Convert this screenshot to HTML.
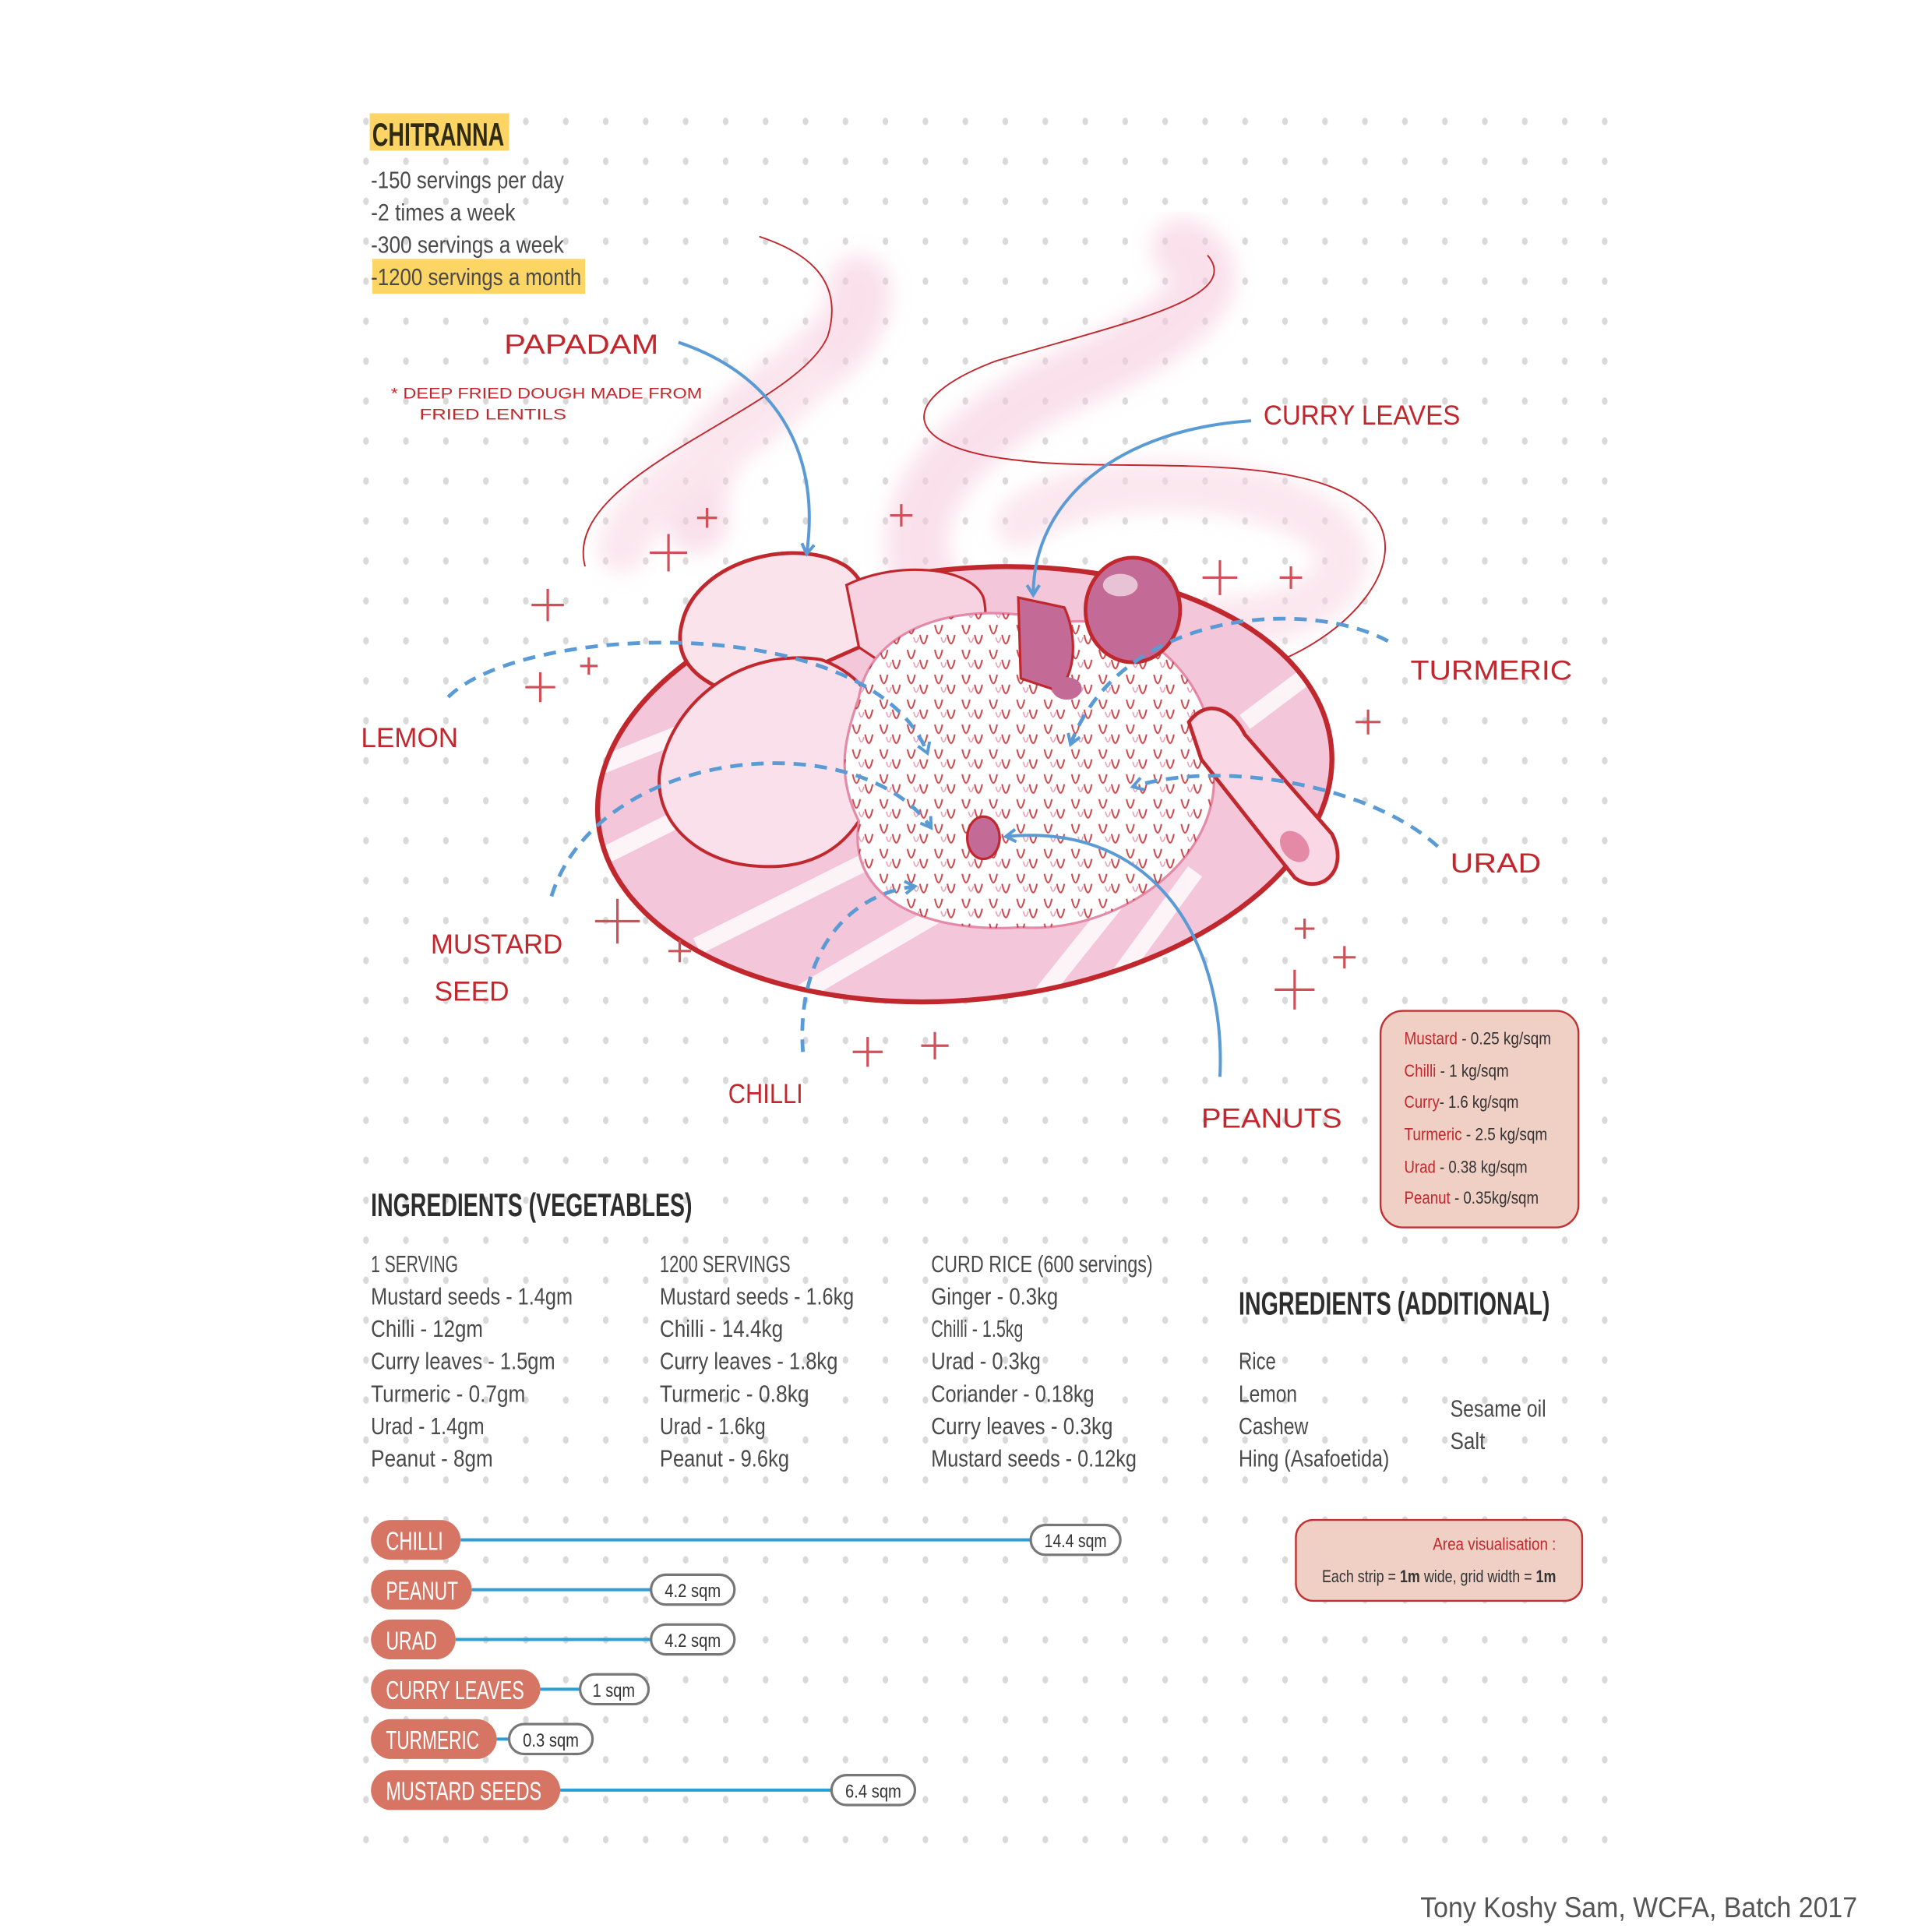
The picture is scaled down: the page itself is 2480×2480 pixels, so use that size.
<!DOCTYPE html>
<html><head><meta charset="utf-8">
<style>
html,body{margin:0;padding:0;background:#fff;}
svg{display:block}
.t{font-family:"Liberation Sans Narrow","Liberation Sans",sans-serif;fill:#4a4a4a;font-size:19px}
.h{font-family:"Liberation Sans Narrow","Liberation Sans",sans-serif;fill:#2e2e2e;font-size:26px;font-weight:bold}
.r{font-family:"Liberation Sans","DejaVu Sans",sans-serif;fill:#c0282e;font-size:22px}
.p{font-family:"Liberation Sans Narrow","Liberation Sans",sans-serif;fill:#fff;font-size:21px}
.v{font-family:"Liberation Sans Narrow","Liberation Sans",sans-serif;fill:#333;font-size:15px}
.l{font-family:"Liberation Sans Narrow","Liberation Sans",sans-serif;font-size:14px}
</style></head><body>
<svg width="2480" height="2480" viewBox="0 0 1552 1552" xmlns="http://www.w3.org/2000/svg">
<defs>
<pattern id="dots" x="294" y="97.5" width="32.1" height="32.1" patternUnits="userSpaceOnUse">
<ellipse cx="0" cy="0" rx="2.3" ry="3" fill="#d9d9d9"/>
<ellipse cx="32.1" cy="0" rx="2.3" ry="3" fill="#d9d9d9"/>
<ellipse cx="0" cy="32.1" rx="2.3" ry="3" fill="#d9d9d9"/>
<ellipse cx="32.1" cy="32.1" rx="2.3" ry="3" fill="#d9d9d9"/>
</pattern>
<pattern id="rice" width="22" height="20" patternUnits="userSpaceOnUse">
<path d="M3 2 q3 14 6 0 M13 10 q3 14 6 0" fill="none" stroke="#c0282e" stroke-width="1.3"/>
<path d="M8 12 q2 8 4 0" fill="none" stroke="#e48aa6" stroke-width="1"/>
</pattern>
<clipPath id="plate"><ellipse cx="775" cy="630" rx="296" ry="173" transform="rotate(-6 775 630)"/></clipPath>
<marker id="ah" markerWidth="12" markerHeight="12" refX="9" refY="6" orient="auto" markerUnits="userSpaceOnUse"><path d="M1 1 L9 6 L1 11" fill="none" stroke="#5b9bd5" stroke-width="2.5"/></marker>
<filter id="blur"><feGaussianBlur stdDeviation="8"/></filter>
</defs>
<rect x="290" y="92" width="1015" height="1405" fill="url(#dots)"/>

<!-- steam -->
<g fill="none" stroke-linecap="round" filter="url(#blur)" opacity="0.55">
<path d="M560 420 C540 330 700 300 690 230 M750 480 C700 400 800 330 870 300 C960 260 990 220 950 200" stroke="#f6c8da" stroke-width="50"/>
<path d="M500 440 C520 380 600 360 650 300 M820 420 C870 380 1000 380 1060 420 C1110 460 1050 500 980 500" stroke="#f8d3e1" stroke-width="40"/>
</g>
<g fill="none">
<path d="M470 455 C450 380 640 330 665 270 C680 220 640 200 610 190" stroke="#c0282e" stroke-width="1.2"/>
<path d="M1000 540 C1080 520 1140 450 1100 410 C1050 360 900 380 820 370 C720 360 720 320 800 290 C900 260 1000 240 970 205" stroke="#c0282e" stroke-width="1.2"/>
</g>
<!-- plate -->
<ellipse cx="775" cy="630" rx="296" ry="173" transform="rotate(-6 775 630)" fill="#f4c6da"/>
<g clip-path="url(#plate)" stroke="#fff" stroke-width="14" opacity="0.8">
<path d="M470 620 L620 560 M480 690 L640 610 M560 760 L700 690 M640 800 L760 730 M820 820 L900 720 M880 810 L960 700 M1000 580 L1080 520"/>
</g>
<ellipse cx="775" cy="630" rx="296" ry="173" transform="rotate(-6 775 630)" fill="none" stroke="#c0282e" stroke-width="4"/>
<!-- papadams -->
<path d="M548 500 C560 450 640 430 680 455 C700 470 705 500 690 520 L600 560 C560 550 540 530 548 500Z" fill="#fbe3ec" stroke="#c0282e" stroke-width="3"/>
<path d="M680 470 C720 450 780 455 790 480 C800 520 760 540 720 540 L690 520Z" fill="#f7d2e0" stroke="#c0282e" stroke-width="2"/>
<path d="M530 620 C540 560 600 520 660 530 C700 545 720 580 700 640 C680 690 640 700 600 695 C560 690 525 660 530 620Z" fill="#fae0ea" stroke="#c0282e" stroke-width="2.5"/>
<!-- rice -->
<path d="M690 560 C700 500 780 480 850 500 C930 490 980 560 975 620 C980 690 900 750 820 745 C740 750 680 720 690 660 C670 620 680 590 690 560Z" fill="#fff" stroke="#e48aa6" stroke-width="2"/>
<path d="M690 560 C700 500 780 480 850 500 C930 490 980 560 975 620 C980 690 900 750 820 745 C740 750 680 720 690 660 C670 620 680 590 690 560Z" fill="url(#rice)" opacity="0.85"/>
<ellipse cx="790" cy="673" rx="13" ry="17" fill="#c46a96" stroke="#c0282e" stroke-width="2"/>
<!-- curry leaf -->
<path d="M818 480 L855 488 C865 510 865 540 850 555 L820 545Z" fill="#c46a96" stroke="#c0282e" stroke-width="2"/>
<ellipse cx="857" cy="553" rx="12" ry="9" fill="#c46a96"/>
<!-- spoon -->
<ellipse cx="910" cy="490" rx="38" ry="42" fill="#c46a96" stroke="#c0282e" stroke-width="3"/>
<ellipse cx="900" cy="470" rx="14" ry="9" fill="#fff" opacity="0.6"/>
<path d="M955 580 C970 560 990 570 1000 590 L1070 670 C1085 700 1060 720 1040 705 L965 610Z" fill="#f9d7e5" stroke="#c0282e" stroke-width="3"/>
<ellipse cx="1040" cy="680" rx="10" ry="14" fill="#e48aa6" transform="rotate(-40 1040 680)"/>
<!-- plus signs -->
<g stroke="#d0505a" stroke-width="2">
<path d="M522 444h30M537 429v30 M560 416h16M568 408v16 M715 414h18M724 405v18 M427 486h26M440 473v26 M422 552h24M434 540v24 M466 535h14M473 528v14 M966 464h28M980 450v28 M1028 464h18M1037 455v18 M1089 580h20M1099 570v20 M478 740h36M496 722v36 M537 764h18M546 755v18 M1040 746h16M1048 738v16 M1071 769h18M1080 760v18 M1024 795h32M1040 779v32 M685 845h24M697 833v24 M740 840h22M751 829v22"/>
</g>
<!-- blue arrows -->
<g fill="none" stroke="#5b9bd5" stroke-width="2.5" marker-end="url(#ah)">
<path d="M545 275 C620 300 660 360 648 445"/>
<path d="M1005 338 C900 345 830 400 830 478"/>
<path d="M980 865 C985 760 930 660 808 672"/>
</g>
<g fill="none" stroke="#5b9bd5" stroke-width="3" stroke-dasharray="10 7" marker-end="url(#ah)">
<path d="M1115 515 C1050 480 900 490 860 598"/>
<path d="M360 560 C420 500 700 490 745 605"/>
<path d="M1155 680 C1100 630 980 610 910 632"/>
<path d="M443 720 C480 600 690 580 748 665"/>
<path d="M645 845 C640 780 670 720 735 712"/>
</g>
<!-- red labels -->
<text class="r" x="405" y="284" textLength="124" lengthAdjust="spacingAndGlyphs">PAPADAM</text>
<text class="r" x="314" y="320" style="font-size:12px" textLength="250" lengthAdjust="spacingAndGlyphs">* DEEP FRIED DOUGH MADE FROM</text>
<text class="r" x="337" y="337" style="font-size:12px" textLength="118" lengthAdjust="spacingAndGlyphs">FRIED LENTILS</text>
<text class="r" x="1015" y="341" textLength="158" lengthAdjust="spacingAndGlyphs">CURRY LEAVES</text>
<text class="r" x="1133" y="546" textLength="130" lengthAdjust="spacingAndGlyphs">TURMERIC</text>
<text class="r" x="290" y="600" textLength="78" lengthAdjust="spacingAndGlyphs">LEMON</text>
<text class="r" x="1165" y="701" textLength="73" lengthAdjust="spacingAndGlyphs">URAD</text>
<text class="r" x="346" y="766" textLength="106" lengthAdjust="spacingAndGlyphs">MUSTARD</text>
<text class="r" x="349" y="804" textLength="60" lengthAdjust="spacingAndGlyphs">SEED</text>
<text class="r" x="585" y="886" textLength="60" lengthAdjust="spacingAndGlyphs">CHILLI</text>
<text class="r" x="965" y="906" textLength="113" lengthAdjust="spacingAndGlyphs">PEANUTS</text>

<!-- header -->
<rect x="297" y="91" width="112" height="30" fill="#fdd565"/>
<text class="h" x="299" y="117" textLength="106" lengthAdjust="spacingAndGlyphs" style="fill:#2f2a12">CHITRANNA</text>
<text class="t" x="298" y="151" textLength="155" lengthAdjust="spacingAndGlyphs">-150 servings per day</text>
<text class="t" x="298" y="177" textLength="116" lengthAdjust="spacingAndGlyphs">-2 times a week</text>
<text class="t" x="298" y="203" textLength="155" lengthAdjust="spacingAndGlyphs">-300 servings a week</text>
<rect x="299" y="208" width="171" height="28" fill="#fdd565"/>
<text class="t" x="298" y="229" textLength="169" lengthAdjust="spacingAndGlyphs">-1200 servings a month</text>

<!-- legend box -->
<rect x="1109" y="812" width="159" height="174" rx="18" fill="#f0cfc4" stroke="#c23030" stroke-width="1.5"/>
<g class="l">
<text x="1128" y="839" textLength="118" lengthAdjust="spacingAndGlyphs"><tspan fill="#c0282e">Mustard</tspan><tspan fill="#333"> - 0.25 kg/sqm</tspan></text>
<text x="1128" y="865" textLength="84" lengthAdjust="spacingAndGlyphs"><tspan fill="#c0282e">Chilli</tspan><tspan fill="#333"> - 1 kg/sqm</tspan></text>
<text x="1128" y="890" textLength="92" lengthAdjust="spacingAndGlyphs"><tspan fill="#c0282e">Curry</tspan><tspan fill="#333">- 1.6 kg/sqm</tspan></text>
<text x="1128" y="916" textLength="115" lengthAdjust="spacingAndGlyphs"><tspan fill="#c0282e">Turmeric</tspan><tspan fill="#333"> - 2.5 kg/sqm</tspan></text>
<text x="1128" y="942" textLength="99" lengthAdjust="spacingAndGlyphs"><tspan fill="#c0282e">Urad</tspan><tspan fill="#333"> - 0.38 kg/sqm</tspan></text>
<text x="1128" y="967" textLength="108" lengthAdjust="spacingAndGlyphs"><tspan fill="#c0282e">Peanut</tspan><tspan fill="#333"> - 0.35kg/sqm</tspan></text>
</g>

<!-- ingredients -->
<text class="h" x="298" y="977" textLength="258" lengthAdjust="spacingAndGlyphs">INGREDIENTS (VEGETABLES)</text>
<g class="t">
<text x="298" y="1022" textLength="70" lengthAdjust="spacingAndGlyphs">1 SERVING</text>
<text x="298" y="1048" textLength="162" lengthAdjust="spacingAndGlyphs">Mustard seeds - 1.4gm</text>
<text x="298" y="1074" textLength="90" lengthAdjust="spacingAndGlyphs">Chilli - 12gm</text>
<text x="298" y="1100" textLength="148" lengthAdjust="spacingAndGlyphs">Curry leaves - 1.5gm</text>
<text x="298" y="1126" textLength="124" lengthAdjust="spacingAndGlyphs">Turmeric - 0.7gm</text>
<text x="298" y="1152" textLength="91" lengthAdjust="spacingAndGlyphs">Urad - 1.4gm</text>
<text x="298" y="1178" textLength="98" lengthAdjust="spacingAndGlyphs">Peanut - 8gm</text>
<text x="530" y="1022" textLength="105" lengthAdjust="spacingAndGlyphs">1200 SERVINGS</text>
<text x="530" y="1048" textLength="156" lengthAdjust="spacingAndGlyphs">Mustard seeds - 1.6kg</text>
<text x="530" y="1074" textLength="99" lengthAdjust="spacingAndGlyphs">Chilli - 14.4kg</text>
<text x="530" y="1100" textLength="143" lengthAdjust="spacingAndGlyphs">Curry leaves - 1.8kg</text>
<text x="530" y="1126" textLength="120" lengthAdjust="spacingAndGlyphs">Turmeric - 0.8kg</text>
<text x="530" y="1152" textLength="85" lengthAdjust="spacingAndGlyphs">Urad - 1.6kg</text>
<text x="530" y="1178" textLength="104" lengthAdjust="spacingAndGlyphs">Peanut - 9.6kg</text>
<text x="748" y="1022" textLength="178" lengthAdjust="spacingAndGlyphs">CURD RICE (600 servings)</text>
<text x="748" y="1048" textLength="102" lengthAdjust="spacingAndGlyphs">Ginger - 0.3kg</text>
<text x="748" y="1074" textLength="74" lengthAdjust="spacingAndGlyphs">Chilli - 1.5kg</text>
<text x="748" y="1100" textLength="88" lengthAdjust="spacingAndGlyphs">Urad - 0.3kg</text>
<text x="748" y="1126" textLength="131" lengthAdjust="spacingAndGlyphs">Coriander - 0.18kg</text>
<text x="748" y="1152" textLength="146" lengthAdjust="spacingAndGlyphs">Curry leaves - 0.3kg</text>
<text x="748" y="1178" textLength="165" lengthAdjust="spacingAndGlyphs">Mustard seeds - 0.12kg</text>
<text x="995" y="1100" textLength="30" lengthAdjust="spacingAndGlyphs">Rice</text>
<text x="995" y="1126" textLength="47" lengthAdjust="spacingAndGlyphs">Lemon</text>
<text x="995" y="1152" textLength="56" lengthAdjust="spacingAndGlyphs">Cashew</text>
<text x="995" y="1178" textLength="121" lengthAdjust="spacingAndGlyphs">Hing (Asafoetida)</text>
<text x="1165" y="1138" textLength="77" lengthAdjust="spacingAndGlyphs">Sesame oil</text>
<text x="1165" y="1164" textLength="28" lengthAdjust="spacingAndGlyphs">Salt</text>
</g>
<text class="h" x="995" y="1056" textLength="250" lengthAdjust="spacingAndGlyphs">INGREDIENTS (ADDITIONAL)</text>

<!-- bars -->
<g stroke="#2a9fd6" stroke-width="2.5">
<line x1="370" y1="1237" x2="828" y2="1237"/>
<line x1="379" y1="1277" x2="523" y2="1277"/>
<line x1="366" y1="1317" x2="523" y2="1317"/>
<line x1="434" y1="1357" x2="466" y2="1357"/>
<line x1="399" y1="1397" x2="409" y2="1397"/>
<line x1="450" y1="1438" x2="668" y2="1438"/>
</g>
<g fill="#d67563">
<rect x="298" y="1221" width="72" height="32" rx="16"/>
<rect x="298" y="1261" width="81" height="32" rx="16"/>
<rect x="298" y="1301" width="68" height="32" rx="16"/>
<rect x="298" y="1341" width="136" height="32" rx="16"/>
<rect x="298" y="1381" width="101" height="32" rx="16"/>
<rect x="298" y="1422" width="152" height="32" rx="16"/>
</g>
<g class="p">
<text x="310" y="1245" textLength="46" lengthAdjust="spacingAndGlyphs">CHILLI</text>
<text x="310" y="1285" textLength="58" lengthAdjust="spacingAndGlyphs">PEANUT</text>
<text x="310" y="1325" textLength="41" lengthAdjust="spacingAndGlyphs">URAD</text>
<text x="310" y="1365" textLength="111" lengthAdjust="spacingAndGlyphs">CURRY LEAVES</text>
<text x="310" y="1405" textLength="75" lengthAdjust="spacingAndGlyphs">TURMERIC</text>
<text x="310" y="1446" textLength="125" lengthAdjust="spacingAndGlyphs">MUSTARD SEEDS</text>
</g>
<g fill="#fff" stroke="#777" stroke-width="2">
<rect x="828" y="1225" width="72" height="24" rx="12"/>
<rect x="523" y="1265" width="67" height="24" rx="12"/>
<rect x="523" y="1305" width="67" height="24" rx="12"/>
<rect x="466" y="1345" width="55" height="24" rx="12"/>
<rect x="409" y="1385" width="67" height="24" rx="12"/>
<rect x="668" y="1426" width="67" height="24" rx="12"/>
</g>
<g class="v">
<text x="839" y="1243" textLength="50" lengthAdjust="spacingAndGlyphs">14.4 sqm</text>
<text x="534" y="1283" textLength="45" lengthAdjust="spacingAndGlyphs">4.2 sqm</text>
<text x="534" y="1323" textLength="45" lengthAdjust="spacingAndGlyphs">4.2 sqm</text>
<text x="476" y="1363" textLength="34" lengthAdjust="spacingAndGlyphs">1 sqm</text>
<text x="420" y="1403" textLength="45" lengthAdjust="spacingAndGlyphs">0.3 sqm</text>
<text x="679" y="1444" textLength="45" lengthAdjust="spacingAndGlyphs">6.4 sqm</text>
</g>

<!-- area box -->
<rect x="1041" y="1221" width="230" height="65" rx="14" fill="#f0cfc4" stroke="#c23030" stroke-width="1.5"/>
<text class="l" x="1151" y="1245" fill="#c0282e" textLength="99" lengthAdjust="spacingAndGlyphs">Area visualisation :</text>
<text class="l" x="1062" y="1271" fill="#333" textLength="188" lengthAdjust="spacingAndGlyphs">Each strip = <tspan font-weight="bold">1m</tspan> wide, grid width = <tspan font-weight="bold">1m</tspan></text>

<text x="1141" y="1540" font-family="Liberation Sans, sans-serif" font-size="23" fill="#555" textLength="351" lengthAdjust="spacingAndGlyphs">Tony Koshy Sam, WCFA, Batch 2017</text>
</svg>
</body></html>
